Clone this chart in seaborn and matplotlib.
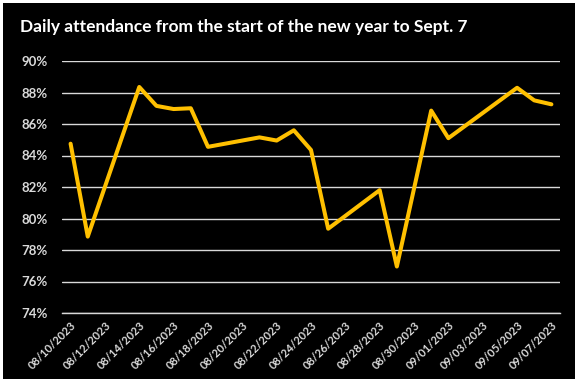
import pandas as pd
import matplotlib.pyplot as plt
import matplotlib.ticker as mticker
from matplotlib.patches import Rectangle
import seaborn as sns

# values (school days only)
dates = ['2023-08-10', '2023-08-11', '2023-08-14', '2023-08-15', '2023-08-16',
         '2023-08-17', '2023-08-18', '2023-08-21', '2023-08-22', '2023-08-23',
         '2023-08-24', '2023-08-25', '2023-08-28', '2023-08-29', '2023-08-31',
         '2023-09-01', '2023-09-05', '2023-09-06', '2023-09-07']
attendance = [84.75, 78.85, 88.35, 87.15, 86.95,
              87.0, 84.55, 85.15, 84.95, 85.6,
              84.35, 79.35, 81.8, 76.95, 86.85,
              85.1, 88.3, 87.5, 87.25]
title = 'Daily attendance from the start of the new year to Sept. 7'

start = pd.Timestamp('2023-08-10')
data = pd.DataFrame({'date': pd.to_datetime(dates), 'attendance': attendance})
# each day sits in the middle of its own slot on the axis
data['day'] = (data['date'] - start).dt.days + 0.5

sns.set_style('dark')
plt.rcParams['font.family'] = ['Lato', 'DejaVu Sans']

fig = plt.figure(figsize=(5.81, 3.87), dpi=100, facecolor='white')
fig.patches.append(Rectangle((3 / 581, 8 / 387), 572 / 581, 376 / 387,
                             transform=fig.transFigure, facecolor='black',
                             edgecolor='none', zorder=-10))
ax = fig.add_axes([62 / 581, 74 / 387, 498 / 581, 252 / 387])
ax.set_zorder(1)
ax.set_facecolor('black')

sns.lineplot(data=data, x='day', y='attendance', color='#FFC000',
             linewidth=2.9, ax=ax, zorder=3)

ax.set_xlim(0, 29)
ax.set_ylim(74, 90)
ax.yaxis.set_major_locator(mticker.MultipleLocator(2))
ax.yaxis.set_major_formatter(mticker.FormatStrFormatter('%d%%'))
ax.grid(axis='y', color='#D9D9D9', linewidth=1.0)
ax.grid(axis='x', visible=False)

# tick marks at slot boundaries, labels at slot centres
tick_days = list(range(0, 29, 2))
ax.set_xticks(tick_days)
ax.set_xticklabels([])
ax.set_xticks([d + 0.5 for d in tick_days], minor=True)
ax.set_xticklabels([(start + pd.Timedelta(days=d)).strftime('%m/%d/%Y') for d in tick_days],
                   minor=True, rotation=45, ha='right', va='top',
                   rotation_mode='anchor', fontsize=8, color='#D9D9D9',
                   fontweight='bold')
ax.tick_params(axis='x', which='major', length=5, width=1, color='#D9D9D9', direction='out')
ax.tick_params(axis='x', which='minor', length=0, pad=5)
ax.tick_params(axis='y', length=0, labelsize=9.5, labelcolor='#D9D9D9', pad=10)
for lbl in ax.get_yticklabels():
    lbl.set_fontweight('bold')

for side in ['top', 'right', 'left']:
    ax.spines[side].set_visible(False)
ax.spines['bottom'].set_color('#D9D9D9')
ax.spines['bottom'].set_linewidth(1.0)
ax.set_xlabel('')
ax.set_ylabel('')

fig.text(20 / 581, 1 - 27 / 387, title, color='white', fontsize=12.5,
         fontweight='bold', va='center', ha='left')

fig.savefig('out.png', dpi=100, facecolor='white')
